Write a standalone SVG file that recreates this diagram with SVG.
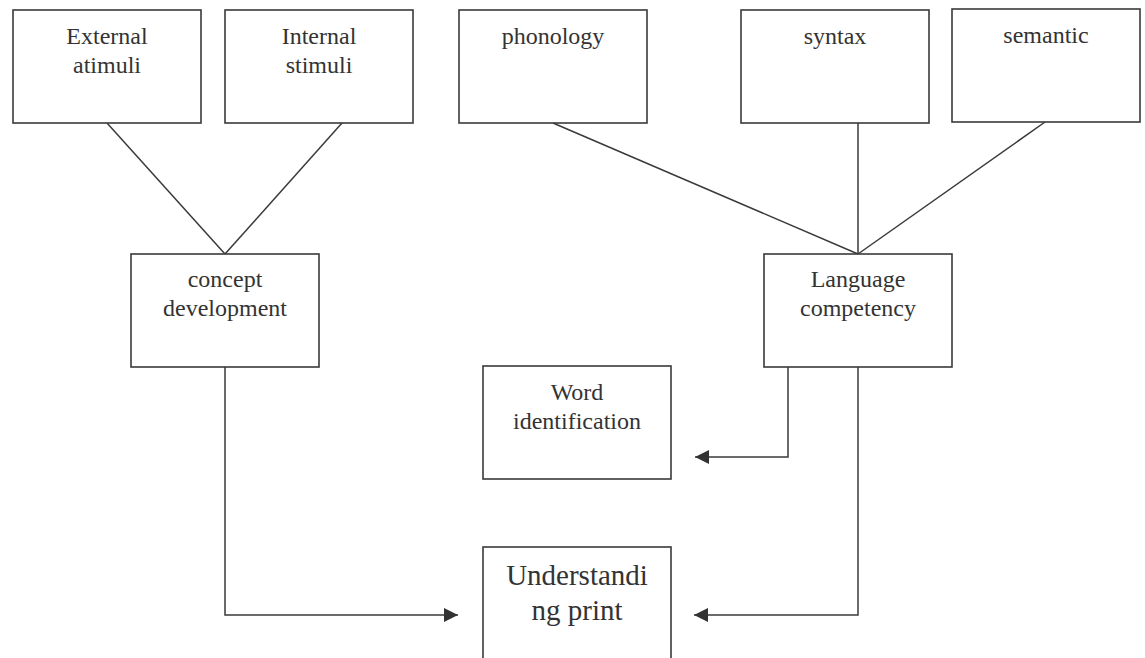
<svg xmlns="http://www.w3.org/2000/svg" width="1145" height="658" viewBox="0 0 1145 658">
<style>
.box{fill:#fff;stroke:#3a3a3a;stroke-width:1.6}
.t{font-family:"Liberation Serif","Times New Roman",serif;font-size:24px;fill:#333;text-anchor:middle}
.big{font-size:29px}
.c{fill:none;stroke:#3a3a3a;stroke-width:1.5}
</style>
<defs>
<marker id="ah" viewBox="0 0 14 14" refX="14" refY="7" markerWidth="14" markerHeight="14" markerUnits="userSpaceOnUse" orient="auto">
<path d="M0,0 L14,7 L0,14 Z" fill="#333"/>
</marker>
</defs>
<rect width="1145" height="658" fill="#fff"/>
<g id="connectors">
<line class="c" x1="107" y1="123" x2="225" y2="254"/>
<line class="c" x1="342" y1="123" x2="225" y2="254"/>
<line class="c" x1="553" y1="123" x2="858" y2="254"/>
<line class="c" x1="858" y1="123" x2="858" y2="254"/>
<line class="c" x1="1045" y1="122" x2="858" y2="254"/>
<polyline class="c" points="225,367 225,615 458,615" marker-end="url(#ah)"/>
<polyline class="c" points="788,367 788,457 695,457" marker-end="url(#ah)"/>
<polyline class="c" points="858,367 858,615 694,615" marker-end="url(#ah)"/>
</g>
<g id="external">
<rect class="box" x="13" y="10" width="188" height="113"/>
<text class="t" x="107" y="44">External</text>
<text class="t" x="107" y="73">atimuli</text>
</g>
<g id="internal">
<rect class="box" x="225" y="10" width="188" height="113"/>
<text class="t" x="319" y="44">Internal</text>
<text class="t" x="319" y="73">stimuli</text>
</g>
<g id="phonology">
<rect class="box" x="459" y="10" width="188" height="113"/>
<text class="t" x="553" y="44">phonology</text>
</g>
<g id="syntax">
<rect class="box" x="741" y="10" width="188" height="113"/>
<text class="t" x="835" y="44">syntax</text>
</g>
<g id="semantic">
<rect class="box" x="952" y="9" width="188" height="113"/>
<text class="t" x="1046" y="43">semantic</text>
</g>
<g id="concept">
<rect class="box" x="131" y="254" width="188" height="113"/>
<text class="t" x="225" y="287">concept</text>
<text class="t" x="225" y="316">development</text>
</g>
<g id="language">
<rect class="box" x="764" y="254" width="188" height="113"/>
<text class="t" x="858" y="287">Language</text>
<text class="t" x="858" y="316">competency</text>
</g>
<g id="word">
<rect class="box" x="483" y="366" width="188" height="113"/>
<text class="t" x="577" y="400">Word</text>
<text class="t" x="577" y="429">identification</text>
</g>
<g id="understanding">
<rect class="box" x="483" y="547" width="188" height="120"/>
<text class="t big" x="577" y="585">Understandi</text>
<text class="t big" x="577" y="620">ng print</text>
</g>
</svg>
